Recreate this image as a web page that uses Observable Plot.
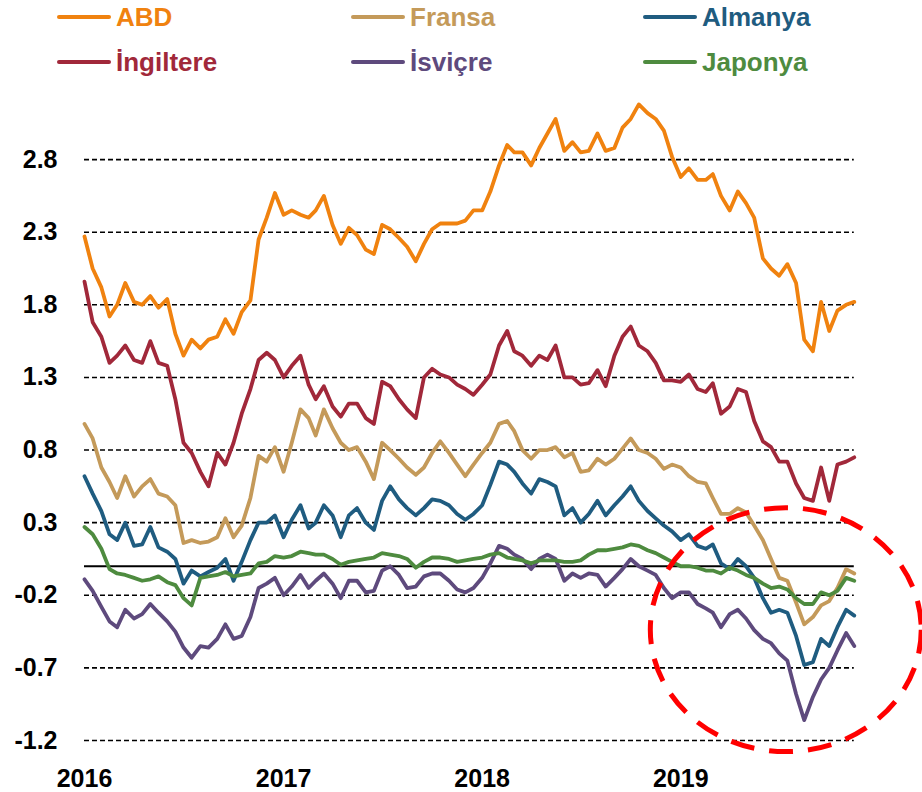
<!DOCTYPE html>
<html><head><meta charset="utf-8">
<script src="https://cdn.jsdelivr.net/npm/d3@7"></script>
<script src="https://cdn.jsdelivr.net/npm/@observablehq/plot@0.6"></script>
<style>
body{margin:0;background:#fff;font-family:"Liberation Sans",Arial,sans-serif;}
#legend{position:relative;width:922px;height:90px;}
.sw{position:absolute;width:54px;height:4px;border-radius:2px;}
.lb{position:absolute;font-weight:bold;font-size:26px;line-height:1;white-space:nowrap;}
</style></head><body>
<div id="legend"></div>
<div id="chart"></div>
<script>
// Series names and colours
const seriesNames = ["ABD","Fransa","Almanya","İngiltere","İsviçre","Japonya"];
const seriesColors = ["#F0820F","#C49A5A","#1F5C80","#A1283A","#5E4A7D","#4E8B3F"];

// Sampling dates: 1st and 16th of each month, Jan 2016 - Nov 2019
const dates = [];
for (const m of d3.utcMonths(new Date(Date.UTC(2016,0,1)), new Date(Date.UTC(2019,10,2)))) {
  dates.push(m, new Date(Date.UTC(m.getUTCFullYear(), m.getUTCMonth(), 16)));
}

// 10-year yields (%)
const abd = [2.27,2.05,1.92,1.72,1.80,1.95,1.82,1.80,1.86,1.78,1.84,1.60,1.45,1.56,1.50,1.56,1.58,1.70,1.60,1.75,1.83,2.25,2.40,2.57,
  2.42,2.45,2.42,2.40,2.45,2.55,2.35,2.22,2.33,2.28,2.18,2.15,2.35,2.32,2.26,2.20,2.10,2.22,2.32,2.36,2.36,2.36,2.38,2.45,
  2.45,2.58,2.76,2.90,2.85,2.85,2.76,2.88,2.98,3.08,2.86,2.92,2.85,2.86,2.98,2.86,2.88,3.02,3.08,3.18,3.12,3.08,3.00,2.82,
  2.68,2.74,2.66,2.66,2.70,2.55,2.45,2.58,2.50,2.40,2.12,2.05,2.00,2.08,1.95,1.56,1.48,1.82,1.62,1.76,1.80,1.82];
const fransa = [0.98,0.88,0.68,0.58,0.47,0.62,0.48,0.55,0.60,0.50,0.48,0.42,0.16,0.18,0.16,0.17,0.20,0.33,0.20,0.28,0.47,0.76,0.72,0.82,
  0.65,0.85,1.08,1.02,0.90,1.08,0.95,0.85,0.80,0.82,0.72,0.60,0.85,0.80,0.74,0.68,0.63,0.68,0.78,0.86,0.78,0.70,0.62,0.70,
  0.78,0.85,0.98,1.00,0.93,0.80,0.74,0.80,0.80,0.82,0.75,0.78,0.65,0.66,0.74,0.70,0.74,0.81,0.88,0.80,0.78,0.74,0.67,0.70,
  0.68,0.62,0.58,0.57,0.47,0.36,0.36,0.40,0.37,0.28,0.18,0.05,-0.08,-0.10,-0.25,-0.40,-0.35,-0.27,-0.24,-0.15,-0.02,-0.05];
const almanya = [0.62,0.50,0.38,0.22,0.18,0.30,0.14,0.15,0.27,0.13,0.10,0.05,-0.12,-0.03,-0.07,-0.04,-0.01,0.05,-0.10,0.03,0.18,0.30,0.30,0.35,
  0.20,0.32,0.42,0.26,0.30,0.42,0.35,0.20,0.35,0.40,0.30,0.25,0.45,0.55,0.46,0.40,0.35,0.40,0.46,0.45,0.42,0.36,0.32,0.36,
  0.42,0.56,0.72,0.70,0.65,0.57,0.50,0.60,0.58,0.55,0.35,0.40,0.30,0.36,0.45,0.35,0.42,0.48,0.55,0.45,0.38,0.33,0.28,0.24,
  0.18,0.22,0.14,0.12,0.15,0.02,-0.02,0.05,0.00,-0.08,-0.22,-0.32,-0.30,-0.32,-0.48,-0.68,-0.66,-0.50,-0.55,-0.42,-0.30,-0.34];
const ingiltere = [1.96,1.68,1.58,1.40,1.45,1.52,1.42,1.40,1.55,1.40,1.38,1.15,0.85,0.78,0.65,0.55,0.78,0.70,0.85,1.05,1.22,1.42,1.47,1.42,
  1.30,1.38,1.45,1.25,1.15,1.24,1.10,1.03,1.12,1.12,1.02,0.98,1.27,1.24,1.15,1.08,1.02,1.30,1.36,1.32,1.30,1.25,1.22,1.18,
  1.25,1.32,1.52,1.62,1.48,1.45,1.38,1.45,1.42,1.52,1.30,1.30,1.25,1.26,1.35,1.24,1.45,1.58,1.65,1.52,1.48,1.40,1.28,1.28,
  1.27,1.32,1.22,1.20,1.26,1.05,1.10,1.22,1.20,1.00,0.86,0.82,0.72,0.72,0.57,0.47,0.45,0.68,0.45,0.70,0.72,0.75];
const isvicre = [-0.09,-0.17,-0.28,-0.38,-0.42,-0.30,-0.36,-0.33,-0.26,-0.32,-0.38,-0.45,-0.56,-0.63,-0.55,-0.56,-0.50,-0.40,-0.50,-0.48,-0.35,-0.15,-0.12,-0.08,
  -0.20,-0.14,-0.06,-0.15,-0.10,-0.05,-0.12,-0.22,-0.10,-0.10,-0.18,-0.17,-0.03,0.00,-0.06,-0.15,-0.14,-0.07,-0.05,-0.05,-0.10,-0.16,-0.18,-0.15,
  -0.08,0.02,0.14,0.12,0.08,0.05,-0.02,0.05,0.08,0.05,-0.10,-0.05,-0.08,-0.05,-0.06,-0.14,-0.08,-0.02,0.05,0.00,-0.03,-0.06,-0.15,-0.22,
  -0.18,-0.18,-0.26,-0.29,-0.32,-0.42,-0.33,-0.30,-0.36,-0.44,-0.50,-0.53,-0.60,-0.65,-0.88,-1.06,-0.90,-0.78,-0.70,-0.58,-0.46,-0.55];
const japonya = [0.27,0.22,0.12,-0.02,-0.05,-0.06,-0.08,-0.10,-0.09,-0.07,-0.11,-0.13,-0.22,-0.27,-0.08,-0.07,-0.06,-0.04,-0.07,-0.06,-0.05,0.02,0.03,0.07,
  0.06,0.07,0.10,0.09,0.08,0.08,0.05,0.01,0.03,0.04,0.05,0.06,0.09,0.08,0.07,0.05,-0.01,0.03,0.06,0.06,0.05,0.03,0.04,0.05,
  0.06,0.08,0.09,0.06,0.05,0.04,0.02,0.04,0.04,0.04,0.03,0.03,0.04,0.08,0.11,0.11,0.12,0.13,0.15,0.14,0.11,0.09,0.06,0.03,
  0.00,0.00,-0.01,-0.03,-0.03,-0.05,-0.01,-0.03,-0.06,-0.08,-0.12,-0.15,-0.14,-0.16,-0.22,-0.26,-0.26,-0.18,-0.20,-0.17,-0.08,-0.10];

const seriesValues = [abd, fransa, almanya, ingiltere, isvicre, japonya];

// Axis ticks
const yTicks = [-1.2,-0.7,-0.2,0.3,0.8,1.3,1.8,2.3,2.8];
const xTicks = ["2016-01-01","2017-01-01","2018-01-01","2019-01-01"].map(d => new Date(d));

// Red dashed ellipse annotation (centre date / value, half-width in days, half-height in %)
const ringCenterDate = new Date("2019-07-14");
const ringCenterValue = -0.44;
const ringHalfDays = 249;
const ringHalfValue = 0.84;

// Tidy table
const data = [];
seriesNames.forEach((name, s) => seriesValues[s].forEach((v, i) => data.push({series: name, date: dates[i], value: v})));
const firstDate = dates[0], lastDate = dates[dates.length - 1];

// Legend (HTML above the SVG)
const legend = document.getElementById("legend");
const colX = [57, 351, 643], rowY = [17, 62];
seriesNames.forEach((name, i) => {
  const c = i % 3, r = Math.floor(i / 3);
  const sw = document.createElement("div");
  sw.className = "sw";
  sw.style.left = colX[c] + "px";
  sw.style.top = (rowY[r] - 2) + "px";
  sw.style.background = seriesColors[i];
  legend.appendChild(sw);
  const lb = document.createElement("div");
  lb.className = "lb";
  lb.textContent = name;
  lb.style.left = (colX[c] + 59) + "px";
  lb.style.top = (rowY[r] - 13) + "px";
  lb.style.color = seriesColors[i];
  legend.appendChild(lb);
});

const chart = Plot.plot({
  width: 922,
  height: 702,
  marginLeft: 84,
  marginRight: 43.2,
  marginTop: 11,
  marginBottom: 52,
  style: {fontFamily: "'Liberation Sans', Arial, sans-serif", fontWeight: "bold", color: "black", background: "white"},
  x: {type: "utc", domain: [new Date("2016-01-01"), new Date("2020-01-01")]},
  y: {domain: [-1.2, 3.2]},
  color: {domain: seriesNames, range: seriesColors},
  marks: [
    Plot.ruleY(yTicks, {x1: firstDate, x2: lastDate, stroke: "black", strokeWidth: 1.6, strokeDasharray: "5,3"}),
    Plot.ruleY([0], {x1: firstDate, x2: lastDate, stroke: "black", strokeWidth: 2}),
    Plot.line(data, {x: "date", y: "value", z: "series", stroke: "series", strokeWidth: 3.8, strokeLinejoin: "round"}),
    Plot.axisY(yTicks, {label: null, tickSize: 0, tickPadding: 27, fontSize: 25, tickFormat: d => d.toFixed(1), fill: "black"}),
    Plot.axisX(xTicks, {label: null, tickSize: 0, tickPadding: 29, fontSize: 25, tickFormat: d3.utcFormat("%Y"), fill: "black"})
  ]
});
document.getElementById("chart").appendChild(chart);

// Ellipse drawn through the chart's own scales
const xs = chart.scale("x"), ys = chart.scale("y");
const cx = xs.apply(ringCenterDate), cy = ys.apply(ringCenterValue);
const rx = xs.apply(new Date(+ringCenterDate + ringHalfDays * 864e5)) - cx;
const ry = ys.apply(ringCenterValue - ringHalfValue) - cy;
d3.select(chart).append("ellipse")
  .attr("cx", cx).attr("cy", cy).attr("rx", rx).attr("ry", ry)
  .attr("fill", "none").attr("stroke", "#FF0000").attr("stroke-width", 5)
  .attr("stroke-dasharray", "24,15");
</script>
</body></html>
